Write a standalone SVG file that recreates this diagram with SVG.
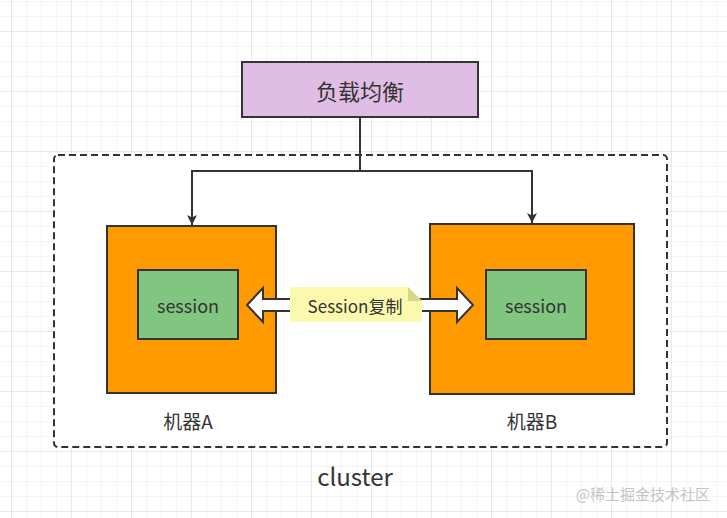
<svg xmlns="http://www.w3.org/2000/svg" width="727" height="518" viewBox="0 0 727 518">
<defs>
<pattern id="minor" x="11" y="1" width="15" height="15" patternUnits="userSpaceOnUse">
<path d="M0 0 V15 M0 0 H15" fill="none" stroke="#ececec" stroke-width="1"/>
</pattern>
<pattern id="major" x="11" y="31" width="60" height="60" patternUnits="userSpaceOnUse">
<path d="M0 0 V60 M0 0 H60" fill="none" stroke="#dedede" stroke-width="1"/>
</pattern>
<marker id="arr" viewBox="0 0 10 10" refX="10" refY="5" markerWidth="10" markerHeight="10" markerUnits="userSpaceOnUse" orient="auto">
<path d="M0 0 L10 5 L0 10 L2.5 5 Z" fill="#333"/>
</marker>
</defs>
<style>
.t{font-family:"Noto Sans CJK SC","Noto Sans",sans-serif;fill:#333;text-anchor:middle;dominant-baseline:central}
.box{stroke:#333;stroke-width:2}
.conn{fill:none;stroke:#333;stroke-width:2}
</style>
<rect width="727" height="518" fill="#fff"/>
<rect width="727" height="518" fill="url(#minor)"/>
<rect width="727" height="518" fill="url(#major)"/>

<g id="cluster">
<rect x="54" y="155" width="613" height="292" rx="4" fill="#fff" stroke="#333" stroke-width="2" stroke-dasharray="7 4"/>
<text class="t" x="355" y="475" font-size="24">cluster</text>
</g>

<g id="lb">
<rect class="box" x="242" y="62" width="236" height="55" fill="#e0bde4"/>
<text class="t" x="360" y="90" font-size="22">负载均衡</text>
</g>

<g id="machineA">
<rect class="box" x="107" y="226" width="169" height="167" fill="#ff9900"/>
<text class="t" x="188" y="420" font-size="19">机器A</text>
</g>
<g id="sessionA">
<rect class="box" x="138" y="270" width="100" height="69" fill="#80c680"/>
<text class="t" x="188" y="305" font-size="18">session</text>
</g>

<g id="machineB">
<rect class="box" x="430" y="224" width="204" height="170" fill="#ff9900"/>
<text class="t" x="532" y="420" font-size="19">机器B</text>
</g>
<g id="sessionB">
<rect class="box" x="486" y="270" width="100" height="69" fill="#80c680"/>
<text class="t" x="536" y="305" font-size="18">session</text>
</g>

<g id="connectors">
<path class="conn" d="M360 117 V171 H192 V225" marker-end="url(#arr)"/>
<path class="conn" d="M360 171 H532 V223" marker-end="url(#arr)"/>
<path d="M247 305 L263 288 V299 H457 V288 L473 305 L457 322 V311 H263 V322 Z" fill="#fff" stroke="#333" stroke-width="2" stroke-linejoin="miter"/>
</g>

<g id="note">
<path d="M290 287 H408 L422 301 V322 H290 Z" fill="#fbf9ad"/>
<path d="M408 287 L422 301 H408 Z" fill="#d8d68c"/>
<text class="t" x="355" y="305" font-size="17">Session复制</text>
</g>

<text x="710" y="493" font-family="Noto Sans CJK SC,sans-serif" font-size="15" fill="#c4c4c4" text-anchor="end" dominant-baseline="central">@稀土掘金技术社区</text>
</svg>
